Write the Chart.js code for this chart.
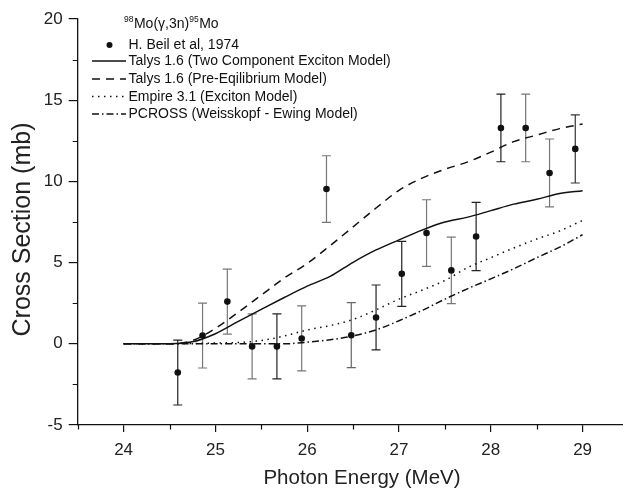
<!DOCTYPE html>
<html>
<head>
<meta charset="utf-8">
<script src="https://cdn.jsdelivr.net/npm/chart.js@4/dist/chart.umd.min.js"></script>
<style>
  html, body { margin: 0; padding: 0; background: #fff; }
  canvas { display: block; }
</style>
</head>
<body>
<canvas id="myChart" width="623" height="490"></canvas>
<script>
// measured points, H. Beil et al 1974
const energy = [24.59, 24.86, 25.13, 25.40, 25.67, 25.94, 26.21, 26.48, 26.75,
  27.03, 27.30, 27.57, 27.84, 28.11, 28.38, 28.64, 28.92];
const crossSection = [-1.77, 0.51, 2.6, -0.16, -0.16, 0.33, 9.53, 0.53, 1.62,
  4.31, 6.82, 4.52, 6.61, 13.29, 13.29, 10.52, 12.0];
const errors = [2.0, 2.0, 2.0, 2.0, 2.0, 2.0, 2.05, 2.0, 2.0,
  2.0, 2.05, 2.05, 2.1, 2.08, 2.08, 2.09, 2.1];
// error bar shade per point (some are drawn gray in the original)
const barShade = ["#222", "#777", "#777", "#777", "#222", "#777", "#777", "#666", "#222",
  "#222", "#777", "#777", "#222", "#222", "#777", "#777", "#333"];

// model curves on a common energy grid
const modelEnergy = [24, 24.5, 24.75, 25, 25.25, 25.5, 25.75, 26, 26.25, 26.5, 26.75,
  27, 27.25, 27.5, 27.75, 28, 28.25, 28.5, 28.75, 29];
const talysTce = [0, 0, 0.12, 0.62, 1.38, 2.12, 2.85, 3.55, 4.15, 5.02, 5.78,
  6.4, 7.0, 7.5, 7.8, 8.2, 8.6, 8.9, 9.25, 9.43];
const talysPreEq = [0, 0, 0.2, 0.95, 1.95, 3.0, 4.05, 4.95, 6.05, 7.2, 8.36,
  9.45, 10.2, 10.75, 11.2, 11.8, 12.45, 12.85, 13.25, 13.54];
const empire = [0, 0, 0.02, 0.05, 0.08, 0.2, 0.48, 0.85, 1.12, 1.5, 2.09,
  2.75, 3.3, 3.9, 4.7, 5.3, 5.9, 6.45, 6.95, 7.6];
const pcross = [0, 0, 0, 0, 0, 0, 0, 0.1, 0.25, 0.48, 0.86,
  1.42, 2.05, 2.75, 3.4, 4.0, 4.62, 5.3, 5.95, 6.72];

const xMajor = [24, 25, 26, 27, 28, 29];
const xMinor = [23.5, 24.5, 25.5, 26.5, 27.5, 28.5];
const yMajor = [-5, 0, 5, 10, 15, 20];
const yMinor = [-2.5, 2.5, 7.5, 12.5, 17.5];

const FONT = "'Liberation Sans', Arial, Helvetica, sans-serif";

function toXY(xs, ys) {
  return xs.map((x, i) => ({ x: x, y: ys[i] }));
}

const errorBars = {
  id: "errorBars",
  beforeDatasetsDraw(chart) {
    const { ctx, scales: { x, y } } = chart;
    ctx.save();
    ctx.lineWidth = 1.2;
    energy.forEach((e, i) => {
      const px = x.getPixelForValue(e);
      const top = y.getPixelForValue(crossSection[i] + errors[i]);
      const bot = y.getPixelForValue(crossSection[i] - errors[i]);
      ctx.strokeStyle = barShade[i];
      ctx.beginPath();
      ctx.moveTo(px, top); ctx.lineTo(px, bot);
      ctx.moveTo(px - 4.5, top); ctx.lineTo(px + 4.5, top);
      ctx.moveTo(px - 4.5, bot); ctx.lineTo(px + 4.5, bot);
      ctx.stroke();
    });
    ctx.restore();
  }
};

const minorTicks = {
  id: "minorTicks",
  afterDraw(chart) {
    const { ctx, scales: { x, y } } = chart;
    ctx.save();
    ctx.strokeStyle = "#111";
    ctx.lineWidth = 1.2;
    ctx.beginPath();
    xMinor.forEach(v => {
      const px = Math.round(x.getPixelForValue(v)) + 0.5;
      ctx.moveTo(px, y.bottom); ctx.lineTo(px, y.bottom + 4.5);
    });
    yMinor.forEach(v => {
      const py = Math.round(y.getPixelForValue(v)) + 0.5;
      ctx.moveTo(x.left, py); ctx.lineTo(x.left - 5, py);
    });
    ctx.stroke();

    // axis titles
    ctx.fillStyle = "#222";
    ctx.textAlign = "center";
    ctx.textBaseline = "middle";
    ctx.font = "20.5px " + FONT;
    ctx.fillText("Photon Energy (MeV)", 362, 478.5);
    ctx.translate(23, 229.5);
    ctx.rotate(-Math.PI / 2);
    ctx.font = "25px " + FONT;
    ctx.fillText("Cross Section (mb)", 0, 0);
    ctx.restore();
  }
};

const legendBox = {
  id: "legendBox",
  afterDraw(chart) {
    const ctx = chart.ctx;
    ctx.save();
    ctx.fillStyle = "#111";
    ctx.strokeStyle = "#111";
    ctx.textBaseline = "middle";
    ctx.textAlign = "left";

    // title 98Mo(γ,3n)95Mo
    let tx = 124;
    const parts = [["98", true], ["Mo(\u03b3,3n)", false], ["95", true], ["Mo", false]];
    parts.forEach(([s, sup]) => {
      ctx.font = (sup ? "8.5px " : "14px ") + FONT;
      ctx.fillText(s, tx, sup ? 19.5 : 24.5);
      tx += ctx.measureText(s).width + (sup ? 0.5 : 0);
    });

    ctx.font = "14px " + FONT;
    const rows = [
      ["H. Beil et al, 1974", 45, null],
      ["Talys 1.6 (Two Component Exciton Model)", 61, []],
      ["Talys 1.6 (Pre-Eqilibrium Model)", 79, [8, 6]],
      ["Empire 3.1 (Exciton Model)", 96.5, [1.5, 4.5]],
      ["PCROSS (Weisskopf - Ewing Model)", 114, [7, 3, 1.5, 3]]
    ];
    rows.forEach(([label, ry, dash]) => {
      if (dash === null) {
        ctx.beginPath();
        ctx.arc(109.5, ry, 3, 0, Math.PI * 2);
        ctx.fill();
      } else {
        ctx.setLineDash(dash);
        ctx.lineWidth = 1.5;
        ctx.beginPath();
        ctx.moveTo(92, ry); ctx.lineTo(126, ry);
        ctx.stroke();
        ctx.setLineDash([]);
      }
      ctx.fillText(label, 128.5, ry + 0.5);
    });
    ctx.restore();
  }
};

function curve(label, ys, dash) {
  return {
    label: label,
    data: toXY(modelEnergy, ys),
    showLine: true,
    borderColor: "#111",
    borderWidth: 1.5,
    borderDash: dash,
    pointRadius: 0,
    cubicInterpolationMode: "monotone",
    fill: false
  };
}

const ctx = document.getElementById("myChart").getContext("2d");
new Chart(ctx, {
  type: "scatter",
  data: {
    datasets: [
      curve("Talys 1.6 (Two Component Exciton Model)", talysTce, []),
      curve("Talys 1.6 (Pre-Eqilibrium Model)", talysPreEq, [8, 6]),
      curve("Empire 3.1 (Exciton Model)", empire, [1.5, 4.5]),
      curve("PCROSS (Weisskopf - Ewing Model)", pcross, [7, 3, 1.5, 3]),
      {
        label: "H. Beil et al, 1974",
        data: toXY(energy, crossSection),
        showLine: false,
        pointRadius: 3.3,
        pointBackgroundColor: "#111",
        pointBorderColor: "#111",
        pointBorderWidth: 0
      }
    ]
  },
  options: {
    responsive: false,
    animation: false,
    devicePixelRatio: 1,
    layout: { autoPadding: false, padding: { top: 19, right: 0, bottom: 0, left: 0 } },
    plugins: { legend: { display: false }, tooltip: { enabled: false } },
    scales: {
      x: {
        type: "linear",
        min: 23.5,
        max: 29.44,
        afterBuildTicks: (scale) => { scale.ticks = xMajor.map(v => ({ value: v })); },
        afterFit: (scale) => { scale.height = 65; },
        border: { display: true, color: "#111", width: 1.3 },
        grid: { drawOnChartArea: false, drawTicks: true, tickLength: 7, color: "#111", lineWidth: 1.2 },
        ticks: { color: "#222", font: { family: FONT, size: 17 }, padding: 8, maxRotation: 0 },
        title: { display: false }
      },
      y: {
        type: "linear",
        min: -5,
        max: 20,
        afterBuildTicks: (scale) => { scale.ticks = yMajor.map(v => ({ value: v })); },
        afterFit: (scale) => { scale.width = 77.7; },
        border: { display: true, color: "#111", width: 1.3 },
        grid: { drawOnChartArea: false, drawTicks: true, tickLength: 9, color: "#111", lineWidth: 1.2 },
        ticks: { color: "#222", font: { family: FONT, size: 17 }, padding: 6 },
        title: { display: false }
      }
    }
  },
  plugins: [errorBars, minorTicks, legendBox]
});
</script>
</body>
</html>
